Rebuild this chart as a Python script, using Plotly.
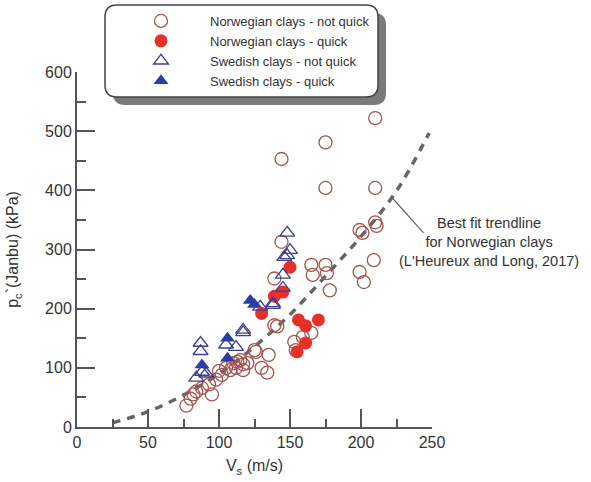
import plotly.graph_objects as go

# Shear wave velocity Vs (m/s) and preconsolidation stress p'c (kPa)
nor_nq_vs = [77, 80, 82, 84, 88, 93, 95, 98, 100, 102, 105, 108, 110, 112, 113, 115, 117, 120,
             117, 125, 126, 130, 134, 135, 139, 141, 139, 144, 144, 153, 154, 159, 165, 165,
             166, 175, 176, 178, 175, 175, 199, 201, 199, 202, 209, 210, 211, 210, 210, 251]
nor_nq_p = [36, 48, 55, 60, 66, 72, 55, 80, 95, 88, 100, 96, 108, 100, 110, 113, 106, 108,
            96, 130, 127, 100, 92, 122, 172, 170, 251, 313, 453, 144, 130, 152, 159, 274,
            257, 274, 260, 231, 404, 481, 333, 328, 262, 245, 282, 346, 340, 404, 522, 397]

nor_q_vs = [130, 139, 145, 150, 155, 156, 161, 161, 170]
nor_q_p = [192, 221, 228, 270, 127, 181, 171, 142, 181]

swe_nq_vs = [84, 87, 87, 88, 91, 105, 112, 117, 117, 129, 138, 138, 145, 145, 146, 148, 150, 148]
swe_nq_p = [83, 142, 128, 93, 90, 139, 135, 164, 160, 203, 206, 209, 235, 257, 287, 290, 299, 328]

swe_q_vs = [88, 106, 106, 122, 125]
swe_q_p = [105, 150, 116, 214, 207]

# Best fit trendline for Norwegian clays
trend_vs = [25, 50, 75, 100, 125, 150, 175, 200, 225, 248]
trend_p = [7, 26, 54, 90, 136, 190, 255, 322, 399, 497]

FONT = "Liberation Sans, Arial, sans-serif"
AXIS = "#555555"

fig = go.Figure()

fig.add_trace(go.Scatter(
    x=trend_vs, y=trend_p, mode="lines", showlegend=False,
    line=dict(color="#666666", width=3.5, dash="8px,7px", shape="spline"),
    cliponaxis=False, hoverinfo="skip"))

fig.add_trace(go.Scatter(
    x=nor_nq_vs, y=nor_nq_p, mode="markers", name="Norwegian clays - not quick",
    marker=dict(symbol="circle-open", size=13, color="#a45650", line=dict(width=1.3)),
    cliponaxis=False))

fig.add_trace(go.Scatter(
    x=nor_q_vs, y=nor_q_p, mode="markers", name="Norwegian clays - quick",
    marker=dict(symbol="circle", size=13, color="#e8302a", line=dict(width=0)),
    cliponaxis=False))

fig.add_trace(go.Scatter(
    x=swe_nq_vs, y=swe_nq_p, mode="markers", name="Swedish clays - not quick",
    marker=dict(symbol="triangle-up-open", size=13, color="#3b3f8c", line=dict(width=1.3)),
    cliponaxis=False))

fig.add_trace(go.Scatter(
    x=swe_q_vs, y=swe_q_p, mode="markers", name="Swedish clays - quick",
    marker=dict(symbol="triangle-up", size=13, color="#2b3ea6", line=dict(width=0)),
    cliponaxis=False))

# Legend frame: drop shadow then white rounded box (paper units, square plot area)
def rounded_rect(x0, y0, x1, y1, r):
    return (f"M {x0 + r},{y1} L {x1 - r},{y1} Q {x1},{y1} {x1},{y1 - r} "
            f"L {x1},{y0 + r} Q {x1},{y0} {x1 - r},{y0} L {x0 + r},{y0} "
            f"Q {x0},{y0} {x0},{y0 + r} L {x0},{y1 - r} Q {x0},{y1} {x0 + r},{y1} Z")

px = 1 / 355
bx0, bx1 = 28 * px, 301 * px
by0, by1 = 330 * px, 422 * px
rad = 12 * px
fig.add_shape(type="path", xref="paper", yref="paper", layer="above",
              path=rounded_rect(bx0 + 8 * px, by0 - 8 * px, bx1 + 8 * px, by1 - 8 * px, rad),
              fillcolor="#7a7a7a", line=dict(width=0))
fig.add_shape(type="path", xref="paper", yref="paper", layer="above",
              path=rounded_rect(bx0, by0, bx1, by1, rad),
              fillcolor="white", line=dict(color="#444444", width=1.5))

# Leader line and label for the trendline
fig.add_shape(type="line", x0=221, y0=390, x1=244, y1=328,
              line=dict(color="#666666", width=1.2))
fig.add_annotation(x=412 * px, y=185 * px, xref="paper", yref="paper", showarrow=False,
                   xanchor="center", yanchor="middle",
                   text="Best fit trendline<br>for Norwegian clays<br>(L'Heureux and Long, 2017)",
                   font=dict(family=FONT, size=14.5, color="#333333"), align="center")

fig.update_layout(
    width=591, height=482,
    margin=dict(l=77, r=159, t=72, b=55, autoexpand=False),
    paper_bgcolor="white", plot_bgcolor="white",
    font=dict(family=FONT, size=16, color="#333333"),
    showlegend=True,
    legend=dict(x=35 * px, y=421 * px, xanchor="left", yanchor="top",
                bgcolor="rgba(0,0,0,0)", borderwidth=0, itemwidth=88,
                font=dict(family=FONT, size=13, color="#333333"),
                tracegroupgap=0),
    xaxis=dict(range=[0, 250], dtick=50, tick0=0, showgrid=False, zeroline=False,
               showline=True, linecolor=AXIS, linewidth=2,
               ticks="inside", ticklen=18, tickwidth=2, tickcolor=AXIS,
               minor=dict(dtick=25, ticks="inside", ticklen=8, tickwidth=2, tickcolor=AXIS),
               tickfont=dict(size=16, color="#333333"),
               title=dict(text="V<sub>s</sub> (m/s)", font=dict(size=16, color="#333333"),
                          standoff=10)),
    yaxis=dict(range=[0, 600], dtick=100, tick0=0, showgrid=False, zeroline=False,
               showline=True, linecolor=AXIS, linewidth=2,
               ticks="inside", ticklen=18, tickwidth=2, tickcolor=AXIS,
               minor=dict(dtick=50, ticks="inside", ticklen=9, tickwidth=2, tickcolor=AXIS),
               tickfont=dict(size=16, color="#333333"),
               title=dict(text="p<sub>c</sub>`(Janbu) (kPa)", font=dict(size=16, color="#333333"),
                          standoff=22)),
)

fig.write_html("out.html")
